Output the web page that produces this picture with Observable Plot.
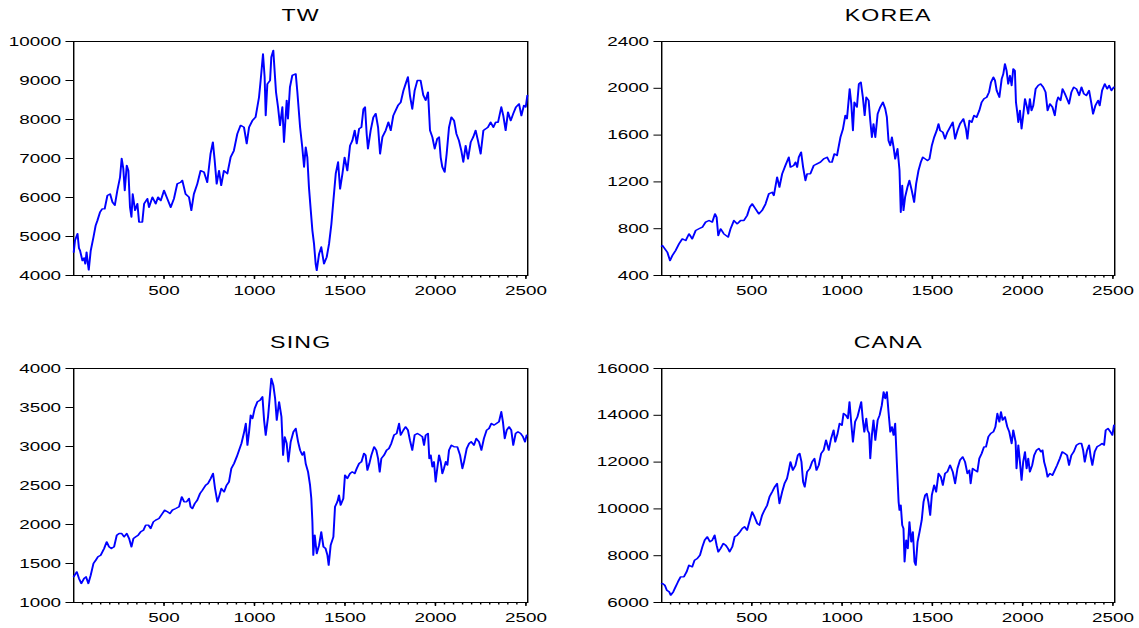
<!DOCTYPE html>
<html><head><meta charset="utf-8">
<script src="https://cdn.jsdelivr.net/npm/d3@7"></script>
<script src="https://cdn.jsdelivr.net/npm/@observablehq/plot@0.6"></script>
<style>
html,body{margin:0;padding:0;background:#fff;}
#root{position:relative;width:1139px;height:628px;overflow:hidden;background:#fff;}
.panel{position:absolute;}
.panel svg{display:block;}
</style></head><body><div id="root"></div>
<script>
// ---- data (observation number, index level) ----
const twObs = [1,8,22,30,36,49,58,65,72,78,84,95,110,122,132,146,159,172,187,202,215,228,242,257,266,275,283,294,303,312,320,327,340,353,362,380,390,408,417,436,454,467,482,500,518,537,555,573,592,601,619,638,651,665,684,702,721,739,757,770,780,791,804,816,831,850,868,886,905,923,942,957,970,988,1006,1025,1034,1047,1056,1062,1071,1086,1093,1104,1111,1119,1130,1141,1154,1163,1178,1185,1196,1209,1228,1237,1252,1264,1274,1283,1292,1301,1311,1320,1329,1338,1344,1357,1369,1384,1399,1412,1425,1436,1449,1462,1473,1486,1498,1513,1528,1541,1554,1565,1578,1591,1602,1611,1620,1627,1642,1657,1670,1683,1694,1707,1725,1740,1753,1767,1780,1793,1808,1823,1835,1848,1859,1872,1885,1900,1918,1933,1946,1959,1970,1983,1996,2010,2020,2029,2038,2051,2062,2075,2088,2103,2116,2130,2143,2154,2167,2180,2195,2209,2222,2235,2250,2265,2278,2290,2305,2320,2333,2346,2364,2375,2388,2401,2416,2430,2445,2462,2475,2489,2499,2508];
const twVal = [4600,4900,5070,4700,4640,4380,4450,4300,4600,4350,4145,4640,4980,5280,5410,5620,5710,5710,6050,6090,5880,5800,6180,6520,7000,6740,6180,6820,6690,5750,5500,6090,5670,5840,5370,5370,5840,5970,5750,6010,5840,6010,5920,6180,5970,5750,5970,6350,6390,6440,6090,6010,5670,6090,6350,6690,6650,6390,7120,7420,6950,6350,6690,6310,6690,6610,7030,7200,7630,7850,7800,7380,7800,7970,8060,8570,9000,9680,9090,8100,8910,9000,9600,9770,9260,8700,8320,7850,8320,7420,8490,8020,8830,9130,9170,8700,7800,7290,6780,7290,7030,6260,5670,5150,4810,4300,4130,4555,4730,4300,4470,4810,5320,5920,6610,6910,6220,6610,7030,6690,7330,7460,7720,7380,7760,7800,8270,8320,7630,7250,7720,8060,8150,7800,7120,7550,7720,7930,7720,8100,8230,8360,8440,8740,8910,9090,8620,8270,8740,9000,9000,8620,8490,8700,7720,7550,7250,7510,7550,7030,6780,6650,7120,7800,8060,7970,7630,7460,7200,6910,7330,6990,7420,7550,7720,7460,7120,7720,7760,7800,7930,7800,7930,7930,8320,8100,7720,8190,7970,8150,8320,8400,8100,8360,8320,8620];

const koreaObs = [1,5,18,32,47,60,78,97,115,134,152,170,189,207,226,244,263,281,296,305,314,327,345,369,382,401,419,438,456,474,489,502,520,539,557,576,594,613,622,640,653,668,686,705,714,732,742,751,760,773,784,797,806,824,843,861,880,898,917,931,944,957,972,991,1005,1018,1027,1042,1051,1060,1068,1082,1093,1104,1115,1125,1134,1147,1156,1165,1174,1184,1197,1211,1226,1239,1248,1257,1267,1276,1285,1294,1307,1318,1325,1333,1340,1349,1362,1373,1386,1399,1410,1423,1436,1447,1460,1473,1484,1497,1510,1524,1534,1543,1558,1570,1583,1598,1613,1626,1639,1653,1672,1686,1694,1705,1718,1731,1745,1760,1773,1786,1801,1814,1825,1838,1847,1856,1871,1884,1893,1902,1911,1920,1930,1939,1948,1957,1963,1970,1976,1985,1994,2003,2013,2022,2031,2040,2049,2059,2072,2086,2099,2114,2127,2138,2151,2165,2178,2188,2197,2210,2221,2234,2246,2257,2270,2283,2298,2313,2326,2339,2353,2368,2381,2390,2403,2418,2427,2440,2455,2468,2479,2492,2505];
const koreaVal = [650,656,628,599,528,571,614,671,713,699,756,713,785,799,813,856,870,856,927,899,742,799,756,728,799,870,842,870,870,913,984,1012,970,927,956,1012,1098,1112,1084,1240,1155,1269,1340,1411,1326,1340,1369,1326,1411,1454,1326,1212,1269,1269,1340,1354,1369,1397,1411,1369,1369,1440,1426,1582,1654,1768,1740,1995,1867,1639,1881,1839,2038,2052,1924,1768,1924,1896,1725,1582,1696,1582,1782,1839,1881,1825,1753,1554,1511,1582,1497,1397,1483,1297,941,1169,956,1070,1155,1212,1126,1027,1183,1297,1369,1411,1397,1383,1397,1511,1582,1639,1696,1639,1625,1568,1625,1668,1710,1568,1639,1696,1739,1654,1568,1725,1710,1768,1753,1810,1881,1910,1924,1967,2052,2095,2066,1981,1924,2081,2124,2209,2152,2038,2109,2024,2166,2152,1881,1796,1710,1810,1654,1768,1910,1853,1782,1910,1810,1853,1995,2024,2038,2010,1967,1810,1867,1839,1768,1881,1924,1896,1995,1953,1910,1867,1967,2010,1995,1939,2010,1953,1939,1981,1867,1782,1853,1896,1853,1981,2038,1995,2024,1981,2010];

const singObs = [1,6,18,30,43,58,69,82,95,110,123,135,150,169,183,196,209,224,239,252,266,279,294,307,320,331,344,357,371,386,399,414,426,441,454,472,491,504,519,533,546,565,583,598,611,625,638,647,657,670,684,699,712,730,743,758,771,782,795,804,817,832,846,859,872,887,902,915,928,943,952,961,970,979,989,1001,1016,1031,1044,1053,1062,1075,1086,1093,1104,1114,1123,1136,1149,1158,1167,1178,1187,1200,1215,1228,1241,1252,1264,1274,1283,1296,1307,1314,1320,1325,1333,1344,1357,1369,1381,1393,1403,1410,1421,1436,1445,1458,1467,1476,1491,1500,1513,1528,1541,1554,1565,1578,1591,1605,1614,1624,1635,1646,1661,1673,1683,1692,1701,1716,1730,1743,1756,1771,1786,1799,1808,1823,1835,1848,1859,1872,1885,1900,1915,1928,1937,1946,1959,1966,1974,1983,1992,2001,2010,2020,2029,2038,2047,2057,2066,2075,2088,2103,2121,2136,2149,2158,2173,2186,2198,2213,2226,2241,2254,2268,2283,2296,2309,2324,2337,2351,2364,2373,2383,2394,2407,2419,2430,2443,2456,2471,2484,2495,2504];
const singVal = [1330,1350,1393,1308,1244,1308,1329,1244,1350,1500,1543,1586,1607,1692,1778,1714,1692,1714,1863,1885,1885,1842,1885,1821,1714,1821,1842,1863,1906,1927,1992,1992,1949,2034,2056,2077,2141,2184,2163,2141,2184,2205,2227,2355,2291,2291,2334,2227,2205,2269,2312,2398,2440,2504,2526,2590,2654,2462,2291,2355,2462,2419,2504,2547,2718,2782,2868,2953,3039,3188,3295,3017,3188,3402,3359,3487,3573,3594,3637,3338,3146,3381,3680,3872,3787,3616,3338,3573,3381,2889,3124,3039,2804,3060,3188,3231,3060,2953,2889,2932,2782,2675,2504,2334,2034,1607,1863,1628,1735,1906,1714,1692,1607,1479,1735,1842,2227,2291,2376,2248,2334,2633,2590,2654,2675,2654,2718,2782,2804,2911,2889,2697,2782,2889,2996,2953,2846,2675,2846,2889,2953,2975,3039,3146,3167,3295,3146,3210,3252,3210,3081,2953,3146,3167,3146,3124,3017,3146,3167,2846,2889,2740,2804,2547,2718,2889,2804,2654,2718,2804,2761,2953,3017,2996,2996,2889,2718,2804,2975,3039,3060,3017,3103,3060,2953,3103,3210,3231,3295,3274,3295,3316,3445,3316,3103,3210,3252,3210,3017,3167,3188,3167,3124,3060,3146];

const canaObs = [1,5,18,29,42,51,65,78,91,106,124,139,152,170,183,198,213,226,239,253,268,281,294,305,314,327,342,355,368,377,392,405,419,434,447,460,474,489,502,515,530,542,557,570,585,598,613,627,640,653,668,681,695,705,714,727,742,755,765,775,784,793,806,821,834,847,858,871,884,898,911,926,939,953,962,975,986,999,1008,1021,1032,1041,1050,1060,1072,1085,1097,1106,1115,1123,1134,1141,1150,1156,1165,1174,1184,1197,1208,1220,1230,1239,1248,1257,1267,1276,1285,1294,1303,1313,1318,1325,1333,1340,1346,1355,1364,1373,1383,1392,1401,1408,1418,1429,1441,1451,1460,1469,1478,1488,1497,1510,1521,1534,1547,1558,1570,1583,1598,1613,1626,1639,1653,1668,1681,1694,1705,1712,1723,1736,1749,1760,1773,1786,1797,1810,1823,1838,1849,1860,1871,1880,1889,1902,1915,1926,1939,1948,1961,1966,1976,1985,1994,2003,2013,2022,2031,2040,2053,2064,2077,2090,2101,2110,2119,2129,2138,2151,2165,2178,2191,2206,2219,2234,2246,2257,2270,2283,2298,2313,2326,2335,2344,2357,2368,2377,2386,2399,2412,2427,2440,2451,2460,2473,2486,2497,2506];
const canaVal = [6800,6812,6741,6527,6456,6313,6456,6670,6883,7097,7097,7311,7595,7524,7809,7880,8023,8379,8664,8806,8593,8664,8877,8450,8165,8308,8521,8450,8308,8165,8379,8806,8877,9020,9162,9234,9091,9518,9874,9661,9376,9305,9732,9946,10159,10516,10729,10943,11085,10231,10729,11085,11299,11655,12011,11655,11869,12296,12367,12011,11157,10943,11584,11726,12011,12154,11655,11869,12367,12510,12937,12510,13008,13365,12866,13222,13649,13578,14077,14006,13863,14576,13721,12866,13721,13934,14291,14576,13792,13293,13863,13365,13222,12154,13151,13792,12937,13792,14006,14433,15003,14718,15003,14148,13293,13507,13151,13649,12011,10302,9946,10159,9305,9162,7738,8664,8308,9447,8593,9020,7738,7595,8593,9020,9518,10302,10587,10658,10302,9732,10587,11014,10729,11513,11370,11014,11513,11584,11869,11584,11085,11726,12083,12225,12011,11513,11655,11085,11726,11655,11584,12154,12367,12652,12652,13080,13222,13293,13507,14077,13721,14148,13792,13934,13507,13293,12795,13365,12866,11726,12724,12011,11228,12011,12439,11726,12154,11584,11869,12296,12510,12581,12439,12510,12011,11726,11370,11513,11441,11655,11869,12154,12439,12367,12296,11869,12296,12439,12724,12795,12795,12510,12011,12510,12724,12225,11869,12439,12652,12724,12795,12724,13365,13436,13293,13151,13578];

const xMajorTicks = [500, 1000, 1500, 2000, 2500];
const xMinorTicks = d3.range(50, 2510, 50);
const twTicks = [4000, 5000, 6000, 7000, 8000, 9000, 10000];
const koreaTicks = [400, 800, 1200, 1600, 2000, 2400];
const singTicks = [1000, 1500, 2000, 2500, 3000, 3500, 4000];
const canaTicks = [6000, 8000, 10000, 12000, 14000, 16000];

// ---- layout ----
const S = 1.45; // horizontal stretch of the original picture
const FONT = "'Liberation Sans', Arial, Helvetica, sans-serif";
const root = document.getElementById("root");

function drawPanel(cfg) {
  const data = cfg.obs.map((o, i) => ({obs: o, value: cfg.val[i]}));
  const svg = Plot.plot({
    width: cfg.boxW / S,
    height: cfg.boxH,
    marginLeft: (cfg.frameL - cfg.boxX) / S,
    marginRight: (cfg.boxX + cfg.boxW - cfg.frameR) / S,
    marginTop: cfg.frameT - cfg.boxY,
    marginBottom: cfg.boxY + cfg.boxH - cfg.frameB,
    style: {fontFamily: FONT, fontSize: "13px", color: "#000", background: "transparent", overflow: "visible"},
    x: {domain: [1, 2510]},
    y: {domain: cfg.yDomain},
    marks: [
      Plot.axisY({ticks: cfg.yTicks, tickSize: 5.2, tickPadding: 3.5, label: null, tickFormat: d => String(d), stroke: "#000", fill: "#000"}),
      Plot.axisX({ticks: xMinorTicks, tickSize: 2.5, tickFormat: () => "", label: null, stroke: "#000"}),
      Plot.axisX({ticks: xMajorTicks, tickSize: 4, tickPadding: 6, label: null, tickFormat: d => String(d), stroke: "#000", fill: "#000"}),
      Plot.frame({stroke: "#000", strokeWidth: 1}),
      Plot.line(data, {x: "obs", y: "value", stroke: "#0000ff", strokeWidth: 1.35}),
      Plot.text([cfg.title], {frameAnchor: "top", lineAnchor: "middle", dy: cfg.titleDy, fontSize: 16, fill: "#000"})
    ]
  });
  svg.setAttribute("preserveAspectRatio", "none");
  svg.setAttribute("width", cfg.boxW);
  svg.setAttribute("height", cfg.boxH);
  svg.style.width = cfg.boxW + "px";
  svg.style.height = cfg.boxH + "px";
  svg.style.maxWidth = "none";
  svg.querySelectorAll("text").forEach(t => {
    if (t.textContent === cfg.title) t.style.letterSpacing = "0.8px";
  });
  const div = document.createElement("div");
  div.className = "panel";
  div.style.left = cfg.boxX + "px";
  div.style.top = cfg.boxY + "px";
  div.style.width = cfg.boxW + "px";
  div.style.height = cfg.boxH + "px";
  div.appendChild(svg);
  root.appendChild(div);
}

drawPanel({title: "TW", obs: twObs, val: twVal, yDomain: [4000, 10000], yTicks: twTicks,
  boxX: 0, boxY: 0, boxW: 560, boxH: 300, frameL: 73, frameR: 527, frameT: 41, frameB: 275, titleDy: -26});
drawPanel({title: "KOREA", obs: koreaObs, val: koreaVal, yDomain: [400, 2400], yTicks: koreaTicks,
  boxX: 580, boxY: 0, boxW: 559, boxH: 300, frameL: 661, frameR: 1114, frameT: 41, frameB: 275, titleDy: -26});
drawPanel({title: "SING", obs: singObs, val: singVal, yDomain: [1000, 4000], yTicks: singTicks,
  boxX: 0, boxY: 320, boxW: 560, boxH: 308, frameL: 73, frameR: 527, frameT: 368, frameB: 602, titleDy: -26});
drawPanel({title: "CANA", obs: canaObs, val: canaVal, yDomain: [6000, 16000], yTicks: canaTicks,
  boxX: 580, boxY: 320, boxW: 559, boxH: 308, frameL: 661, frameR: 1114, frameT: 368, frameB: 602, titleDy: -26});
</script></body></html>
